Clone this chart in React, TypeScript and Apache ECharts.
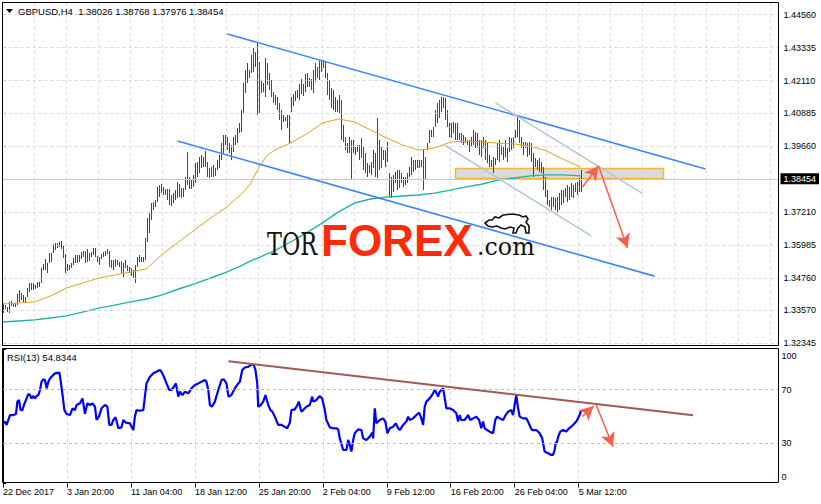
import React, { useEffect, useRef } from "react";
import * as echarts from "echarts";

const timeLabels = ["22 Dec 2017", "3 Jan 20:00", "11 Jan 04:00", "18 Jan 12:00", "25 Jan 20:00", "2 Feb 04:00", "9 Feb 12:00", "16 Feb 20:00", "26 Feb 04:00", "5 Mar 12:00"];
const priceTicks = [1.32345, 1.3357, 1.3476, 1.35985, 1.3721, 1.3966, 1.40885, 1.4211, 1.43335, 1.4456];
const rsiTicks = [0, 30, 70, 100];
const rsiLevels = [30, 70];
const quote = ["GBPUSD,H4", "1.38026", "1.38768", "1.37976", "1.38454"];
const lastPrice = 1.38454;
const rsiTitle = ["RSI(13)", "54.8344"];

const barHighs = [
  1.3383,1.3376,1.3368,1.3387,1.3390,1.3383,1.3383,1.3416,1.3431,1.3420,
  1.3413,1.3405,1.3439,1.3457,1.3457,1.3457,1.3450,1.3461,1.3461,1.3513,
  1.3528,1.3547,1.3532,1.3569,1.3569,1.3603,1.3606,1.3606,1.3610,1.3614,
  1.3599,1.3565,1.3528,1.3525,1.3532,1.3551,1.3562,1.3562,1.3562,1.3573,
  1.3577,1.3577,1.3584,1.3569,1.3573,1.3588,1.3588,1.3558,1.3554,1.3565,
  1.3573,1.3577,1.3584,1.3577,1.3543,1.3543,1.3547,1.3543,1.3536,1.3540,
  1.3532,1.3543,1.3525,1.3517,1.3513,1.3506,1.3525,1.3554,1.3562,1.3554,
  1.3554,1.3625,1.3699,1.3718,1.3755,1.3759,1.3766,1.3815,1.3822,1.3826,
  1.3815,1.3807,1.3807,1.3807,1.3785,1.3792,1.3803,1.3833,1.3826,1.3811,
  1.3811,1.3852,1.3945,1.3852,1.3841,1.3860,1.3904,1.3908,1.3926,1.3934,
  1.3926,1.3949,1.3908,1.3886,1.3889,1.3897,1.3886,1.3915,1.3934,1.3978,
  1.4008,1.4008,1.4001,1.3978,1.3971,1.4001,1.4008,1.4034,1.4053,1.4101,
  1.4202,1.4250,1.4276,1.4250,1.4306,1.4332,1.4317,1.4354,1.4280,1.4213,
  1.4202,1.4295,1.4276,1.4239,1.4213,1.4168,1.4157,1.4150,1.4127,1.4101,
  1.4083,1.4075,1.4083,1.4083,1.4150,1.4161,1.4172,1.4176,1.4198,1.4217,
  1.4198,1.4235,1.4239,1.4220,1.4217,1.4250,1.4276,1.4261,1.4284,1.4287,
  1.4287,1.4280,1.4239,1.4213,1.4183,1.4176,1.4150,1.4139,1.4157,1.4139,
  1.4046,1.4001,1.3978,1.4001,1.3990,1.3990,1.3964,1.3971,1.3971,1.3997,
  1.3964,1.3941,1.3904,1.3897,1.3908,1.3952,1.3941,1.4072,1.3990,1.3964,
  1.3952,1.3952,1.3982,1.3867,1.3852,1.3860,1.3871,1.3878,1.3878,1.3867,
  1.3852,1.3852,1.3867,1.3889,1.3926,1.3915,1.3915,1.3915,1.3915,1.3915,
  1.3952,1.3926,1.3978,1.4027,1.4027,1.4038,1.4101,1.4127,1.4139,1.4150,
  1.4150,1.4146,1.4101,1.4053,1.4053,1.4057,1.4053,1.4053,1.4016,1.4016,
  1.4008,1.4001,1.3990,1.3990,1.4001,1.4027,1.4020,1.4016,1.3990,1.3990,
  1.4001,1.3990,1.3982,1.3934,1.3915,1.3926,1.3923,1.3978,1.3990,1.3971,
  1.3964,1.3990,1.3960,1.4001,1.3997,1.4001,1.4027,1.4075,1.4064,1.4001,
  1.3982,1.3982,1.3978,1.3982,1.3978,1.3941,1.3923,1.3915,1.3923,1.3908,
  1.3889,1.3852,1.3803,1.3766,1.3778,1.3778,1.3774,1.3778,1.3792,1.3803,
  1.3803,1.3811,1.3822,1.3815,1.3830,1.3822,1.3830,1.3833,1.3848,1.38768
];
const barLows = [
  1.3346,1.3361,1.3349,1.3346,1.3372,1.3368,1.3368,1.3376,1.3387,1.3394,
  1.3387,1.3387,1.3405,1.3424,1.3431,1.3431,1.3435,1.3439,1.3442,1.3457,
  1.3506,1.3506,1.3495,1.3532,1.3536,1.3569,1.3580,1.3588,1.3591,1.3584,
  1.3551,1.3495,1.3502,1.3506,1.3513,1.3525,1.3532,1.3532,1.3536,1.3547,
  1.3554,1.3532,1.3536,1.3540,1.3554,1.3562,1.3554,1.3536,1.3525,1.3547,
  1.3554,1.3558,1.3565,1.3517,1.3513,1.3506,1.3517,1.3525,1.3517,1.3495,
  1.3480,1.3513,1.3502,1.3495,1.3483,1.3476,1.3457,1.3517,1.3536,1.3536,
  1.3536,1.3543,1.3610,1.3643,1.3692,1.3729,1.3740,1.3759,1.3778,1.3792,
  1.3785,1.3785,1.3766,1.3748,1.3744,1.3755,1.3766,1.3774,1.3778,1.3774,
  1.3778,1.3803,1.3822,1.3807,1.3807,1.3815,1.3830,1.3852,1.3867,1.3886,
  1.3889,1.3889,1.3852,1.3848,1.3852,1.3852,1.3856,1.3878,1.3886,1.3915,
  1.3941,1.3971,1.3952,1.3941,1.3915,1.3945,1.3971,1.3978,1.4016,1.4020,
  1.4090,1.4165,1.4202,1.4220,1.4239,1.4243,1.4261,1.4083,1.4090,1.4165,
  1.4168,1.4150,1.4194,1.4176,1.4150,1.4127,1.4120,1.4101,1.4064,1.4027,
  1.4057,1.4061,1.4034,1.3978,1.4094,1.4116,1.4135,1.4146,1.4139,1.4161,
  1.4153,1.4168,1.4187,1.4187,1.4176,1.4165,1.4206,1.4220,1.4213,1.4243,
  1.4258,1.4220,1.4157,1.4139,1.4109,1.4101,1.4094,1.4094,1.4090,1.3990,
  1.3982,1.3952,1.3941,1.3941,1.3841,1.3941,1.3934,1.3945,1.3915,1.3923,
  1.3878,1.3867,1.3852,1.3867,1.3860,1.3886,1.3852,1.3848,1.3878,1.3886,
  1.3915,1.3889,1.3908,1.3778,1.3774,1.3796,1.3830,1.3803,1.3811,1.3830,
  1.3815,1.3822,1.3830,1.3852,1.3860,1.3871,1.3878,1.3886,1.3886,1.3889,
  1.3803,1.3841,1.3952,1.3978,1.4001,1.4001,1.4038,1.4053,1.4072,1.4094,
  1.4109,1.4064,1.4038,1.4001,1.3997,1.4016,1.3990,1.3990,1.3990,1.3978,
  1.3971,1.3978,1.3971,1.3945,1.3964,1.3971,1.3960,1.3960,1.3934,1.3926,
  1.3960,1.3915,1.3904,1.3889,1.3889,1.3867,1.3897,1.3915,1.3908,1.3934,
  1.3915,1.3926,1.3908,1.3945,1.3952,1.3960,1.3997,1.4001,1.3978,1.3960,
  1.3934,1.3960,1.3926,1.3934,1.3908,1.3852,1.3889,1.3878,1.3871,1.3867,
  1.3803,1.3778,1.3748,1.3740,1.3729,1.3740,1.3729,1.3718,1.3729,1.3748,
  1.3755,1.3778,1.3759,1.3766,1.3778,1.3774,1.3796,1.3785,1.3796,1.37976
];
const barDirs =
  "ddduduuuud" + "dduuddduuu" + "udduuuuuud" + "ddduuuuduu" + "ududuudddu" +
  "uuuddudddd" + "uddudduuud" + "duuuuuuuuu" + "ddddduuuud" + "duduuuuuuu" +
  "uudddduuuu" + "uudduuuuuu" + "uuuuududdu" + "uudddddddd" + "udduuuuuud" +
  "uuudduuduu" + "udddduuuud" + "dduuduuuud" + "dduuuddudd" + "uudduuuudu" +
  "uuuuuddudu" + "duuuuduuuu" + "dddudddudu" + "ddddududdd" + "udddduduud" +
  "uuduuuuudd" + "dduddudddd" + "ddudduuduu" + "uuuduududu";

const maBars = [0,8,16,24,32,40,48,56,64,72,80,88,96,104,112,120,124,128,132,136,144,152,160,168,176,184,192,200,208,216,224,232,240,248,256,264,272,280,289];
const maOrange = [1.3379,1.3383,1.3387,1.3409,1.3439,1.3457,1.3476,1.3487,1.3498,1.3510,1.3565,1.3610,1.3655,1.3699,1.3740,1.3792,1.3826,1.3886,1.3930,1.3952,1.3978,1.4012,1.4053,1.4068,1.4057,1.4027,1.3997,1.3971,1.3952,1.3960,1.3982,1.3986,1.3982,1.3978,1.3975,1.3967,1.3949,1.3919,1.3889];
const maTeal = [1.3312,1.3316,1.3320,1.3327,1.3335,1.3349,1.3364,1.3375,1.3387,1.3398,1.3413,1.3435,1.3454,1.3476,1.3498,1.3524,1.3540,1.3551,1.3565,1.3577,1.3610,1.3644,1.3681,1.3722,1.3755,1.3770,1.3777,1.3781,1.3785,1.3792,1.3803,1.3815,1.3826,1.3841,1.3848,1.3856,1.3860,1.3860,1.3856];

const rsiBars = [0,1,1.8,2.7,3.5,5.2,6.5,7.2,8,8.8,9.7,10.5,11.8,12.7,13.5,14.3,15.2,16,16.8,17.7,18.5,19.3,20.2,21,21.8,22.7,23.5,24.3,26,28.2,28.8,29.8,30.7,31.8,33.5,34.8,36,36.8,38.5,39.8,41,42.2,43.5,44.8,46,46.8,48,49.3,51,52.2,53.2,54.3,55.2,56.3,57.7,59.3,60.2,61.5,63.5,64.3,65.2,66,66.8,68.5,70.2,71,71.8,73.5,75.2,76.8,78.5,79.3,80.5,81.8,83.2,84.3,85.5,86.5,87.7,88.5,89.8,91,92.7,94.3,96,97.7,99.3,101,101.8,102.7,103.5,104.5,106,107.7,109.3,110.5,111.8,112.8,114.3,116,117.7,118.5,119.7,121,122.7,124.3,125.5,126.3,127.2,127.7,129,130.2,131.3,132.7,133.8,134.8,136,137.7,139.3,141,142.2,143.5,144.3,146,147.3,148,149.3,150.2,151.8,153.5,154.7,155.2,156.8,158.5,159.7,161,161.8,163.5,165.2,166.8,167.7,168.5,170.2,171.8,172.7,173.5,174.3,175.2,176,177.7,179.3,180.2,181.8,183.5,184.8,185.2,186,186.8,188.5,190.2,191.3,192.3,193.5,195.2,196.5,197.7,198.5,200.2,201.8,202.7,203.5,205.2,206.8,208.2,209.3,210.2,211,211.8,213.5,215.2,216,216.8,217.7,218.5,220.2,221.3,221.8,223.5,225.2,226.8,227.7,228.5,229.3,231,232.7,233.8,235.2,236.8,238.2,239.3,240.2,241,242.2,243.5,245.2,246.3,247.2,248.5,250.2,251.5,252.7,254.3,255.2,256,256.8,257.7,258.5,260.2,261.8,262.7,263.8,264.7,266.8,268.5,269.8,271,272.7,274.3,275.2,276,276.5,277.2,277.8,278.8,280.2,281.8,283.2,284.3,286,286.8,287.7,288.5,289.3];
const rsiValues = [44.9,46.2,43.7,47.4,51.1,51.1,51.9,61.1,62.3,54.8,54.8,58.6,63.5,66.8,66.0,63.5,65.3,63.5,65.3,66.0,69.8,76.0,77.7,77.2,71.0,76.0,78.4,79.7,82.2,82.7,77.2,66.0,54.8,51.9,51.1,56.1,54.8,58.6,59.8,63.5,51.9,59.8,58.6,59.8,57.3,47.4,49.9,56.1,58.6,57.3,43.7,43.7,47.4,49.4,41.2,41.9,47.4,45.4,44.9,42.4,39.9,49.9,54.8,54.3,54.8,64.8,74.7,79.7,82.2,83.4,84.7,83.4,79.7,74.7,69.8,69.8,72.2,74.7,64.8,68.5,66.0,68.5,67.3,71.0,73.5,74.7,76.0,77.2,76.0,69.8,58.6,57.3,61.1,69.8,77.2,77.7,74.7,64.8,66.0,71.0,74.7,76.0,84.7,86.6,87.1,88.9,88.4,84.7,74.7,57.3,58.6,61.1,66.0,58.6,54.8,53.6,49.9,43.7,43.7,42.4,41.2,45.4,54.8,55.3,58.6,61.1,53.6,54.8,57.3,58.6,64.8,61.1,62.3,65.3,63.5,54.8,47.4,41.9,41.2,41.2,40.4,33.7,25.0,25.0,32.5,28.8,23.8,32.5,37.5,40.4,39.9,33.7,32.5,35.0,38.0,33.7,56.1,44.9,47.4,48.6,46.2,37.5,41.2,42.4,44.9,41.2,39.9,43.7,46.2,49.9,47.4,48.6,51.1,52.9,48.6,43.7,57.3,61.1,63.5,67.3,69.8,67.8,64.8,68.5,71.0,61.1,56.1,56.1,54.8,52.4,46.2,51.1,47.4,47.4,51.1,47.4,48.6,49.9,47.4,41.2,46.2,41.2,39.9,38.7,37.5,47.4,49.9,48.6,47.4,51.1,53.6,54.8,51.1,58.6,66.0,56.1,49.9,48.6,48.6,46.2,42.4,39.9,39.9,37.5,33.7,23.8,22.6,21.3,21.3,25.0,30.0,31.2,35.0,38.7,39.9,38.7,41.2,42.4,44.9,46.2,48.6,51.1,54.8];

// analyst drawings, in [bar index, price] / [bar index, RSI]
const upperChannel = [[112.5, 1.4384], [351.5, 1.3882]];
const lowerChannel = [[87.5, 1.3986], [326, 1.3483]];
const upperGrey = [[246.5, 1.4128], [319.9, 1.3791]];
const lowerGrey = [[221, 1.3971], [294.5, 1.3632]];
const zone = [[226.5, 1.3884], [330.5, 1.3846]];
const priceArrowUp = [[290, 1.3815], [298, 1.3893]];
const priceArrowDown = [[298, 1.3893], [312.5, 1.3588]];
const rsiTrend = [[112.8, 91.2], [345.2, 50.9]];
const rsiArrowUp = [[289.8, 49.9], [295.5, 57.8]];
const rsiArrowDown = [[296.8, 58.6], [305.2, 27.5]];

const FONT = "'Liberation Sans', Arial, sans-serif";
const GRID_COLOR = "#d9d9d9";
const ARROW = "#f7604e";
const BULL_PATH =
  "M0,9 L4,6 L7,6 L10,3 L14,4 L18,1 L27,0 L34,1 L38,3 L41,2 L43,5 L41,8 L44,12 L44,19 L41,19 L40,13 L36,11 L33,14 L31,19 L28,19 L29,14 L25,13 L20,15 L16,14 L12,12 L7,13 L3,12 Z";

let bullRegistered = false;
function registerBull() {
  if (bullRegistered) return;
  echarts.graphic.registerShape("bull", (echarts.graphic as any).extendPath(BULL_PATH, {}));
  bullRegistered = true;
}

function segSeries(axis: number, pts: number[][], color: string, width: number, arrow: boolean, z = 6) {
  return {
    type: "line",
    xAxisIndex: axis,
    yAxisIndex: axis,
    data: [],
    silent: true,
    z,
    markLine: {
      silent: true,
      animation: false,
      precision: 6,
      symbol: arrow ? ["none", "arrow"] : ["none", "none"],
      symbolSize: arrow ? [11, 14] : 0,
      label: { show: false },
      emphasis: { disabled: true },
      lineStyle: { color, width, type: "solid", opacity: 1 },
      data: [[{ coord: pts[0] }, { coord: pts[1] }]],
    },
  };
}

export default function App() {
  const ref = useRef<HTMLDivElement>(null);
  useEffect(() => {
    if (!ref.current) return;
    registerBull();
    const chart = echarts.init(ref.current, null, { renderer: "svg" });
    const bars = barHighs.map((h, i) => [i, h, barLows[i], barDirs[i] === "u" ? 1 : 0]);
    const labelTicks = timeLabels.map((_, k) => k * 32);

    const option: any = {
      animation: false,
      backgroundColor: "#ffffff",
      grid: [
        { left: 2.5, top: 2.5, width: 776, height: 343 },
        { left: 2.5, top: 349.5, width: 776, height: 134 },
      ],
      xAxis: [
        {
          gridIndex: 0, type: "value", min: 0, max: 388, interval: 16,
          axisLine: { show: false }, axisTick: { show: false }, axisLabel: { show: false },
          splitLine: { show: true, lineStyle: { color: GRID_COLOR, type: [3, 3], width: 1 } },
        },
        {
          gridIndex: 1, type: "value", min: 0, max: 388, interval: 16,
          axisLine: { show: false },
          axisTick: { show: true, customValues: labelTicks, length: 4, lineStyle: { color: "#000" } },
          axisLabel: {
            show: true, customValues: labelTicks, align: "left", margin: 4,
            fontSize: 9, color: "#000", fontFamily: FONT,
            formatter: (v: number) => timeLabels[Math.round(v / 32)] ?? "",
          },
          splitLine: { show: true, lineStyle: { color: GRID_COLOR, type: [3, 3], width: 1 } },
        },
      ],
      yAxis: [
        {
          gridIndex: 0, type: "value", position: "right", min: 1.32248, max: 1.45014, scale: true,
          axisLine: { show: true, lineStyle: { color: "#000", width: 1 } },
          axisTick: { show: true, customValues: priceTicks, length: 3, lineStyle: { color: "#000" } },
          axisLabel: {
            show: true, customValues: priceTicks, margin: 5, fontSize: 9, color: "#000", fontFamily: FONT,
            formatter: (v: number) => v.toFixed(5),
          },
          splitLine: { show: false },
        },
        {
          gridIndex: 1, type: "value", position: "right", min: 0, max: 100,
          axisLine: { show: true, lineStyle: { color: "#000", width: 1 } },
          axisTick: { show: true, customValues: rsiTicks, length: 3, lineStyle: { color: "#000" } },
          axisLabel: {
            show: true, customValues: rsiTicks, margin: 3, fontSize: 9, color: "#000", fontFamily: FONT,
            formatter: (v: number) => (v === 100 ? "{t|100}" : v === 0 ? "{b|0}" : String(v)),
            rich: {
              t: { padding: [12, 0, 0, 0], fontSize: 9, fontFamily: FONT, color: "#000" },
              b: { padding: [0, 0, 13, 0], fontSize: 9, fontFamily: FONT, color: "#000" },
            },
          },
          splitLine: { show: false },
        },
      ],
      series: [
        {
          type: "line", xAxisIndex: 0, yAxisIndex: 0, data: [], silent: true, z: 1,
          markLine: {
            silent: true, animation: false, precision: 6, symbol: ["none", "none"], label: { show: false },
            lineStyle: { color: GRID_COLOR, type: [3, 3], width: 1 },
            data: priceTicks.map((v) => ({ yAxis: v })),
          },
        },
        {
          type: "line", xAxisIndex: 0, yAxisIndex: 0, data: [], silent: true, z: 2,
          markLine: {
            silent: true, animation: false, precision: 6, symbol: ["none", "none"],
            lineStyle: { color: "#c8c8c8", type: "solid", width: 1 },
            label: {
              show: true, position: "end", distance: 2, formatter: lastPrice.toFixed(5),
              backgroundColor: "#000", color: "#fff", padding: [1, 3, 1, 3], fontSize: 9, fontFamily: FONT,
            },
            data: [{ yAxis: lastPrice }],
          },
        },
        {
          type: "custom", xAxisIndex: 0, yAxisIndex: 0, data: bars, z: 3, clip: true,
          encode: { x: 0, y: [1, 2] },
          renderItem: (_p: any, api: any) => {
            const i = api.value(0);
            const top = api.coord([i, api.value(1)]);
            const bot = api.coord([i, api.value(2)]);
            const y0 = Math.round(top[1]);
            const y1 = Math.round(bot[1]);
            return {
              type: "rect",
              shape: { x: top[0] + 0.5, y: y0, width: 1, height: Math.max(1, y1 - y0) },
              style: { fill: api.value(3) ? "#2f4f4f" : "#f00000" },
            };
          },
        },
        {
          type: "line", xAxisIndex: 0, yAxisIndex: 0, z: 4, symbol: "none", silent: true,
          data: maBars.map((b, k) => [b, maOrange[k]]),
          lineStyle: { color: "#daa520", width: 1 },
        },
        {
          type: "line", xAxisIndex: 0, yAxisIndex: 0, z: 4, symbol: "none", silent: true,
          data: maBars.map((b, k) => [b, maTeal[k]]),
          lineStyle: { color: "#20b2aa", width: 1.4 },
        },
        segSeries(0, upperChannel, "#3d86ff", 1.6, false),
        segSeries(0, lowerChannel, "#3d86ff", 1.6, false),
        segSeries(0, upperGrey, "#b4c6dc", 1.5, false),
        segSeries(0, lowerGrey, "#b4c6dc", 1.5, false),
        {
          type: "line", xAxisIndex: 0, yAxisIndex: 0, data: [], silent: true, z: 7,
          markArea: {
            silent: true, animation: false,
            itemStyle: { color: "rgba(190,190,190,0.55)", borderColor: "#f0b840", borderWidth: 1.5 },
            data: [[{ coord: zone[0] }, { coord: zone[1] }]],
          },
        },
        segSeries(0, priceArrowUp, ARROW, 1.5, true, 8),
        segSeries(0, priceArrowDown, ARROW, 1.5, true, 8),
        {
          type: "line", xAxisIndex: 1, yAxisIndex: 1, data: [], silent: true, z: 1,
          markLine: {
            silent: true, animation: false, precision: 6, symbol: ["none", "none"], label: { show: false },
            lineStyle: { color: "#bdbdbd", type: [3, 3], width: 1 },
            data: rsiLevels.map((v) => ({ yAxis: v })),
          },
        },
        {
          type: "line", xAxisIndex: 1, yAxisIndex: 1, z: 4, symbol: "none", silent: true,
          data: rsiBars.map((b, k) => [b, rsiValues[k]]),
          lineStyle: { color: "#0000ff", width: 2.2 },
        },
        segSeries(1, rsiTrend, "#a05a55", 2, false, 5),
        segSeries(1, rsiArrowUp, ARROW, 1.5, true, 8),
        segSeries(1, rsiArrowDown, ARROW, 1.5, true, 8),
      ],
      graphic: [
        { type: "rect", z: 100, silent: true, shape: { x: 2.5, y: 2.5, width: 776, height: 343 }, style: { fill: "none", stroke: "#000", lineWidth: 1 } },
        { type: "rect", z: 100, silent: true, shape: { x: 2.5, y: 348.5, width: 776, height: 134 }, style: { fill: "none", stroke: "#000", lineWidth: 1 } },
        { type: "polygon", z: 100, silent: true, shape: { points: [[6, 9], [13, 9], [9.5, 13]] }, style: { fill: "#000" } },
        {
          type: "text", z: 100, silent: true, x: 18, y: 11,
          style: { text: quote[0] + "  " + quote.slice(1).join(" "), font: "9.5px " + FONT, fill: "#000", textVerticalAlign: "middle", verticalAlign: "middle" },
        },
        {
          type: "text", z: 100, silent: true, x: 7, y: 357,
          style: { text: rsiTitle.join(" "), font: "9.5px " + FONT, fill: "#000", textVerticalAlign: "middle", verticalAlign: "middle" },
        },
        {
          type: "text", z: 50, silent: true, x: 267, y: 244, scaleX: 0.72,
          style: { text: "TOR", font: "31px 'DejaVu Serif'", fill: "#111", textVerticalAlign: "middle", verticalAlign: "middle" },
        },
        {
          type: "text", z: 50, silent: true, x: 321, y: 240,
          style: { text: "FOREX", font: "bold 44px " + FONT, fill: "#ff2a06", textVerticalAlign: "middle", verticalAlign: "middle" },
        },
        {
          type: "text", z: 50, silent: true, x: 477, y: 246, scaleX: 0.95,
          style: { text: ".com", font: "25px 'DejaVu Serif'", fill: "#111", textVerticalAlign: "middle", verticalAlign: "middle" },
        },
        {
          type: "bull", z: 50, silent: true, x: 485, y: 214,
          style: { fill: "#ffffff", stroke: "#111", lineWidth: 1.6 },
        },
      ],
    };
    chart.setOption(option);
    return () => chart.dispose();
  }, []);
  return <div ref={ref} style={{ position: "fixed", left: 0, top: 0, width: 821, height: 504, background: "#fff" }} />;
}
